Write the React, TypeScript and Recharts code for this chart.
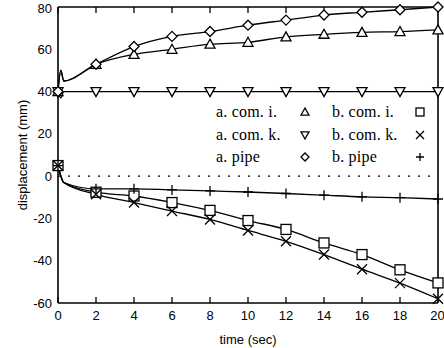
import React from 'react';
import { LineChart, Line, XAxis, YAxis, ReferenceLine } from 'recharts';

// time axis (sec); the early points only shape the start-up transient
const time = [0, 0.15, 0.3, 2, 4, 6, 8, 10, 12, 14, 16, 18, 20];
const markedTimes = [0, 2, 4, 6, 8, 10, 12, 14, 16, 18, 20];

const aComI = [40, 50, 45, 52.9, 57.6, 60, 62.4, 63.3, 65.9, 67.1, 68, 68.4, 69.2];
const aComK = [40, 37, 40, 40, 40, 40, 40, 40, 40, 40, 40, 40, 40];
const aPipe = [40, 50, 45, 52.9, 61.3, 66.1, 68.4, 71.4, 73.8, 76.2, 77.5, 78.7, 80];
const bComI = [5, 0, -3, -7.6, -9.4, -12.5, -16.2, -21, -25.2, -31.6, -37.1, -44.3, -50.5];
const bComK = [5, 0, -3, -8.6, -12.5, -16.5, -20.5, -25.7, -30.8, -37.1, -44, -50.6, -58];
const bPipe = [5, 0, -3, -6, -6, -6.5, -7, -7.5, -8.2, -9, -9.8, -10.2, -10.8];

const xTicks = [0, 2, 4, 6, 8, 10, 12, 14, 16, 18, 20];
const yTicks = [-60, -40, -20, 0, 20, 40, 60, 80];

const series = [
  { key: 'aComI', label: 'a. com. i.', shape: 'triUp', values: aComI },
  { key: 'bComI', label: 'b. com. i.', shape: 'square', values: bComI },
  { key: 'aComK', label: 'a. com. k.', shape: 'triDown', values: aComK },
  { key: 'bComK', label: 'b. com. k.', shape: 'cross', values: bComK },
  { key: 'aPipe', label: 'a. pipe', shape: 'diamond', values: aPipe },
  { key: 'bPipe', label: 'b. pipe', shape: 'plus', values: bPipe },
];

const data = time.map((t, i) => {
  const row: any = { t };
  series.forEach((s) => (row[s.key] = s.values[i]));
  return row;
});

function Marker({ shape, cx, cy, r = 5 }: { shape: string; cx: number; cy: number; r?: number }) {
  const st = { fill: '#fff', stroke: '#000', strokeWidth: 1.3 };
  switch (shape) {
    case 'triUp':
      return <polygon {...st} points={`${cx},${cy - r} ${cx - r},${cy + r * 0.8} ${cx + r},${cy + r * 0.8}`} />;
    case 'triDown':
      return <polygon {...st} points={`${cx},${cy + r} ${cx - r},${cy - r * 0.8} ${cx + r},${cy - r * 0.8}`} />;
    case 'diamond':
      return <polygon {...st} points={`${cx},${cy - r} ${cx + r},${cy} ${cx},${cy + r} ${cx - r},${cy}`} />;
    case 'square':
      return <rect {...st} x={cx - r} y={cy - r} width={r * 2} height={r * 2} />;
    case 'cross':
      return (
        <path stroke="#000" strokeWidth={1.3} fill="none"
          d={`M${cx - r},${cy - r}L${cx + r},${cy + r}M${cx + r},${cy - r}L${cx - r},${cy + r}`} />
      );
    default:
      return (
        <path stroke="#000" strokeWidth={1.3} fill="none"
          d={`M${cx - r},${cy}L${cx + r},${cy}M${cx},${cy - r}L${cx},${cy + r}`} />
      );
  }
}

const tickStyle = { fontFamily: 'Liberation Sans, Arial, sans-serif', fontSize: 13, fill: '#000' };
const frame = { stroke: '#000', strokeWidth: 1.6 };
const tickLine = { stroke: '#000', strokeWidth: 1.3 };
const noLabel = () => '';

export default function App() {
  return (
    <div style={{ position: 'absolute', left: 0, top: 0, width: 444, height: 348, background: '#fff' }}>
      <LineChart width={444} height={348} data={data} margin={{ top: 7, right: 6, left: 0, bottom: 0 }}>
        {/* frame + inward tick marks on all four sides (mirrored, 1px axes) */}
        <XAxis xAxisId="bm" mirror dataKey="t" type="number" domain={[0, 20]} ticks={xTicks} height={1}
          tickSize={6} tickFormatter={noLabel} axisLine={frame} tickLine={tickLine} />
        <XAxis xAxisId="tm" mirror orientation="top" dataKey="t" type="number" domain={[0, 20]} ticks={xTicks}
          height={1} tickSize={6} tickFormatter={noLabel} axisLine={frame} tickLine={tickLine} />
        <YAxis yAxisId="lm" mirror domain={[-60, 80]} ticks={yTicks} width={1}
          tickSize={6} tickFormatter={noLabel} axisLine={frame} tickLine={tickLine} />
        <YAxis yAxisId="rm" mirror orientation="right" domain={[-60, 80]} ticks={yTicks} width={1}
          tickSize={6} tickFormatter={noLabel} axisLine={frame} tickLine={tickLine} />
        <XAxis
          xAxisId="b"
          dataKey="t"
          type="number"
          domain={[0, 20]}
          ticks={xTicks}
          height={45}
          tickLine={false}
          tickSize={0}
          tickMargin={8}
          tick={tickStyle}
          axisLine={false}
          label={{ value: 'time (sec)', position: 'insideBottom', offset: 4, style: tickStyle }}
        />
        <YAxis
          yAxisId="l"
          domain={[-60, 80]}
          ticks={yTicks}
          width={58}
          tickLine={false}
          tickSize={0}
          tickMargin={6}
          tick={tickStyle}
          axisLine={false}
          label={{
            content: () => (
              <text x={22} y={155} transform="rotate(-90 22 155)" textAnchor="middle"
                dominantBaseline="central" style={tickStyle}>
                displacement (mm)
              </text>
            ),
          }}
        />
        <ReferenceLine xAxisId="b" yAxisId="l" y={0} stroke="#000" strokeWidth={1.3} strokeDasharray="2 8" />
        {series.map((s) => (
          <Line
            key={s.key}
            xAxisId="b"
            yAxisId="l"
            type="monotone"
            dataKey={s.key}
            stroke="#000"
            strokeWidth={1.3}
            isAnimationActive={false}
            dot={(p: any) =>
              markedTimes.includes(p.payload.t) ? (
                <Marker key={`${s.key}-${p.index}`} shape={s.shape} cx={p.cx} cy={p.cy} />
              ) : (
                <g key={`${s.key}-${p.index}`} />
              )
            }
          />
        ))}
      </LineChart>
      {series.map((s, i) => {
        const col = i % 2;
        const row = Math.floor(i / 2);
        const top = 101 + row * 22.5;
        const left = col === 0 ? 216 : 332;
        const symX = col === 0 ? 305 : 420;
        return (
          <React.Fragment key={s.key}>
            <div
              style={{
                position: 'absolute',
                left,
                top,
                height: 22,
                lineHeight: '22px',
                fontFamily: 'Liberation Serif, Times New Roman, serif',
                fontSize: 16,
                letterSpacing: 0.2,
                color: '#000',
                whiteSpace: 'nowrap',
              }}
            >
              {s.label}
            </div>
            <svg style={{ position: 'absolute', left: symX - 6, top: top + 5 }} width={12} height={12}>
              <Marker shape={s.shape} cx={6} cy={6} r={4} />
            </svg>
          </React.Fragment>
        );
      })}
    </div>
  );
}
